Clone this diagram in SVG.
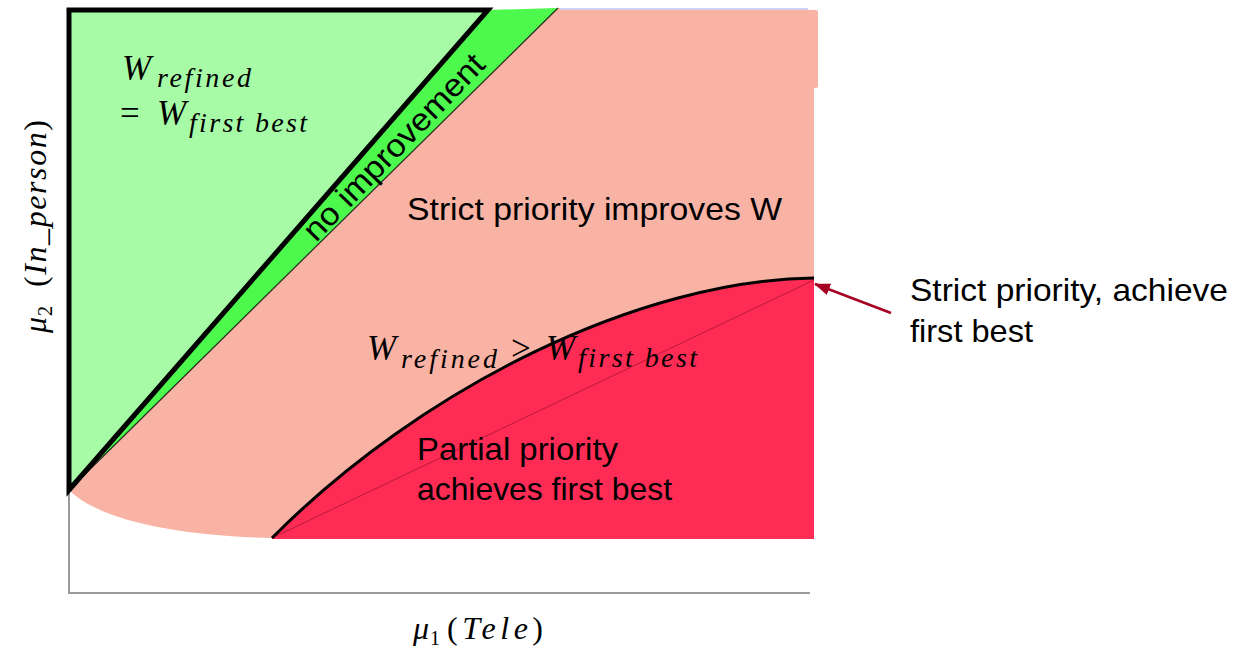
<svg xmlns="http://www.w3.org/2000/svg" width="1245" height="651" viewBox="0 0 1245 651">
  <style>
    .label { font-family: "Liberation Sans", Arial, sans-serif; font-size: 32px; fill: #000; }
    .math { font-family: "Liberation Serif", "Times New Roman", serif; font-style: italic; fill: #000; }
    .big { font-size: 35px; }
    .sub { font-size: 28px; }
    .up { font-style: normal; }
    .axis { stroke: #9a9a9a; stroke-width: 2; fill: none; }
  </style>
  <defs>
    <marker id="head" viewBox="0 0 16 12" refX="15" refY="6" markerWidth="16" markerHeight="12" markerUnits="userSpaceOnUse" orient="auto">
      <path d="M0,0 L16,6 L0,12 Z" fill="#a50021"/>
    </marker>
  </defs>

  <rect width="1245" height="651" fill="#ffffff"/>

  <!-- axes -->
  <g id="axes">
    <path class="axis" d="M69,488 L69,593 L810,593"/>
  </g>

  <!-- parameter regions -->
  <g id="region-no-improvement">
    <polygon points="488,10 558,8 69,490" fill="#4df94d"/>
  </g>

  <g id="region-strict-improves">
    <path d="M558,8 L816,10 Q818,10 818,13 L818,86 Q818,88 816,88 L814,88 L814,538 L272,538 C180,536 100,521 69,490 Z" fill="#f8b3a5"/>
    <line x1="560" y1="9" x2="808" y2="9" stroke="#d2d0f4" stroke-width="2"/>
    <line x1="558" y1="8" x2="69" y2="490" stroke="#000" stroke-width="1.2" opacity="0.8"/>
  </g>

  <g id="region-first-best">
    <polygon points="69,10 488,10 69,490" fill="#a7fba7" stroke="#000" stroke-width="5" stroke-linejoin="miter"/>
  </g>

  <g id="region-partial">
    <path d="M272,538 C422,387 640,280 814,278 L814,539 L272,539 Z" fill="#fe2c55"/>
    <line x1="272" y1="538" x2="814" y2="280" stroke="#5a0010" stroke-width="0.7" opacity="0.6"/>
    <path d="M272,538 C422,387 640,280 814,278" fill="none" stroke="#000" stroke-width="3"/>
  </g>

  <!-- region labels -->
  <g id="label-first-best-eq">
    <text class="math big" x="122" y="80">W</text>
    <text class="math sub" x="157" y="87" textLength="94" lengthAdjust="spacing">refined</text>
    <text class="math big up" x="120" y="125">=</text>
    <text class="math big" x="157" y="125">W</text>
    <text class="math sub" x="189" y="132" textLength="118" lengthAdjust="spacing">first best</text>
  </g>

  <g id="label-no-improvement">
    <text class="label" transform="translate(316,243) rotate(-46)" x="0" y="0" textLength="246" lengthAdjust="spacingAndGlyphs">no improvement</text>
  </g>

  <g id="label-strict-improves">
    <text class="label" x="407" y="220" textLength="375" lengthAdjust="spacingAndGlyphs">Strict priority improves W</text>
  </g>

  <g id="label-refined-gt">
    <text class="math big" x="367" y="360">W</text>
    <text class="math sub" x="401" y="368" textLength="96" lengthAdjust="spacing">refined</text>
    <text class="math big up" x="511" y="360">&gt;</text>
    <text class="math big" x="546" y="360">W</text>
    <text class="math sub" x="578" y="367" textLength="119" lengthAdjust="spacing">first best</text>
  </g>

  <g id="label-partial">
    <text class="label" x="417" y="460" textLength="201" lengthAdjust="spacingAndGlyphs">Partial priority</text>
    <text class="label" x="417" y="500" textLength="255" lengthAdjust="spacingAndGlyphs">achieves first best</text>
  </g>

  <g id="label-strict-first-best">
    <text class="label" x="910" y="301" textLength="318" lengthAdjust="spacingAndGlyphs">Strict priority, achieve</text>
    <text class="label" x="910" y="342" textLength="123" lengthAdjust="spacingAndGlyphs">first best</text>
  </g>

  <!-- axis titles -->
  <g id="axis-title-x">
    <text class="math" font-size="32" x="413" y="639">μ</text>
    <text class="math up" font-size="20" x="430" y="645">1</text>
    <text class="math" font-size="32" x="447" y="639" textLength="96" lengthAdjust="spacing"><tspan class="up">(</tspan>Tele<tspan class="up">)</tspan></text>
  </g>

  <g id="axis-title-y" transform="translate(46,333) rotate(-90)">
    <text class="math" font-size="32" x="0" y="0">μ</text>
    <text class="math up" font-size="20" x="17" y="6">2</text>
    <text class="math" font-size="32" x="46" y="0" textLength="167" lengthAdjust="spacing"><tspan class="up">(</tspan>In_person<tspan class="up">)</tspan></text>
  </g>

  <!-- pointer to the corner point -->
  <g id="connectors">
    <line x1="891" y1="313" x2="815" y2="284" stroke="#a50021" stroke-width="2.5" marker-end="url(#head)"/>
  </g>
</svg>
